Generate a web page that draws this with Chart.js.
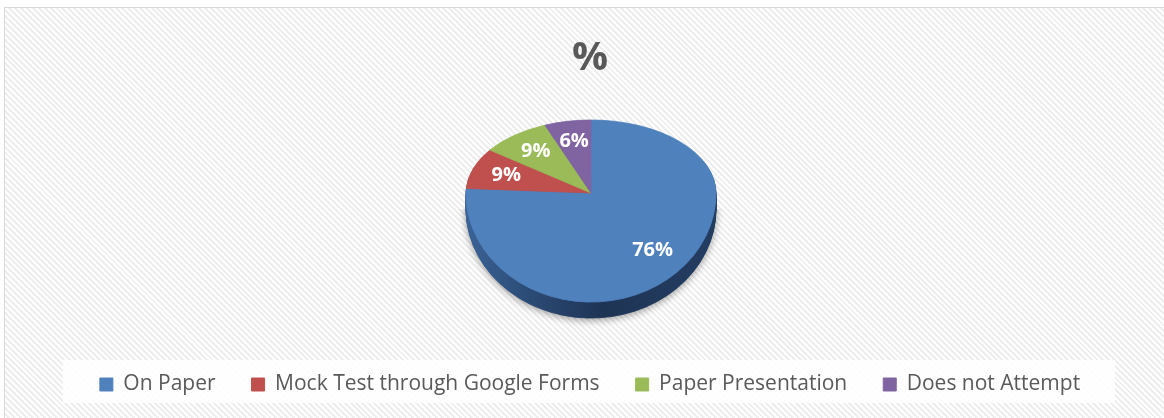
<!DOCTYPE html>
<html><head><meta charset="utf-8">
<script src="https://cdn.jsdelivr.net/npm/chart.js@4/dist/chart.umd.min.js"></script>
<style>
html,body{margin:0;padding:0;width:1164px;height:418px;overflow:hidden;background:#fff;}
#frame{position:absolute;left:4px;top:7px;width:1172px;height:440px;border-top:1px solid #d9d9d9;border-left:1px solid #d9d9d9;
background:repeating-linear-gradient(45deg,#ffffff 0px,#ffffff 2.1px,#eeeeee 2.1px,#eeeeee 4.2px);}
#wrap{position:absolute;left:0;top:0;width:1170px;height:430px;}
</style></head><body>
<div id="frame"><div id="wrap"><canvas id="c"></canvas></div></div>
<script>
const categories = ['On Paper', 'Mock Test through Google Forms', 'Paper Presentation', 'Does not Attempt'];
const percentValues = [76, 9, 9, 6];
const sliceColors = ['#4F81BD', '#C0504D', '#9BBB59', '#8064A2'];
const titleText = '%';

// 3D look parameters (layout / style only)
const PIE = { cx: 586, cy: 185, r: 125, syTop: 0.584, syBot: 0.872, depth: 16, labelR: 0.72 };

const placePie = {
  id: 'placePie',
  afterLayout(chart) {
    const s = PIE.r * 2 + 1;
    Object.assign(chart.chartArea, {
      left: PIE.cx - s / 2, right: PIE.cx + s / 2,
      top: PIE.cy - s / 2, bottom: PIE.cy + s / 2,
      width: s, height: s
    });
  },
  beforeDraw(chart) {
    const ctx = chart.ctx;
    ctx.save();
    ctx.fillStyle = 'rgba(255,255,255,0.88)';
    ctx.fillRect(58, 352, 1052, 43);
    ctx.restore();
  }
};

function withHalf(ctx, el, top, k, W, H) {
  ctx.save();
  ctx.translate(0, k);
  ctx.beginPath();
  if (top) ctx.rect(0, -50, W, el.y + 50); else ctx.rect(0, el.y, W, H);
  ctx.clip();
  ctx.translate(el.x, el.y);
  ctx.scale(1, top ? PIE.syTop : PIE.syBot);
  ctx.translate(-el.x, -el.y);
}

const tiltedPie = {
  id: 'tiltedPie',
  beforeDatasetsDraw(chart) {
    const ctx = chart.ctx;
    const meta = chart.getDatasetMeta(0);
    const W = chart.width, H = chart.height;
    const el0 = meta.data[0];
    const grad = ctx.createLinearGradient(el0.x - el0.outerRadius, 0, el0.x + el0.outerRadius, 0);
    grad.addColorStop(0, '#3b6396');
    grad.addColorStop(0.25, '#2b4b76');
    grad.addColorStop(0.55, '#1e3455');
    grad.addColorStop(1, '#233d61');
    for (let k = PIE.depth; k >= 1; k--) {
      [true, false].forEach(top => {
        meta.data.forEach(el => {
          withHalf(ctx, el, top, k, W, H);
          if (k === PIE.depth && !top) {
            ctx.shadowColor = 'rgba(0,0,0,0.35)';
            ctx.shadowBlur = 7;
            ctx.shadowOffsetY = 2;
          }
          const proxy = Object.create(el);
          proxy.options = Object.assign({}, el.options, { backgroundColor: grad, borderColor: grad });
          el.draw.call(proxy, ctx);
          ctx.restore();
        });
      });
    }
    [true, false].forEach(top => {
      meta.data.forEach(el => {
        withHalf(ctx, el, top, 0, W, H);
        el.draw(ctx);
        ctx.restore();
      });
    });
    ctx.save();
    ctx.font = 'bold 20px "Open Sans"';
    ctx.fillStyle = '#ffffff';
    ctx.textAlign = 'center';
    ctx.textBaseline = 'middle';
    meta.data.forEach((el, i) => {
      const mid = (el.startAngle + el.endAngle) / 2;
      const rr = el.outerRadius * PIE.labelR;
      let dx = Math.cos(mid) * rr, dy = Math.sin(mid) * rr;
      dy *= dy < 0 ? PIE.syTop : PIE.syBot;
      ctx.fillText(percentValues[i] + '%', el.x + dx, el.y + dy);
    });
    ctx.restore();
    return false;
  }
};

new Chart(document.getElementById('c'), {
  type: 'pie',
  data: {
    labels: categories,
    datasets: [{
      data: percentValues,
      backgroundColor: sliceColors,
      borderColor: sliceColors,
      borderWidth: 1
    }]
  },
  options: {
    responsive: true,
    maintainAspectRatio: false,
    animation: false,
    events: [],
    layout: { padding: { bottom: 33 } },
    plugins: {
      title: {
        display: true, text: titleText, color: '#595959',
        font: { family: 'Open Sans', size: 40, weight: 'bold' },
        padding: { top: 27, bottom: 0 }
      },
      legend: {
        position: 'bottom',
        labels: {
          boxWidth: 13, boxHeight: 13, padding: 36, color: '#595959',
          font: { family: 'Open Sans', size: 21 }
        }
      },
      tooltip: { enabled: false }
    }
  },
  plugins: [placePie, tiltedPie]
});
</script>
</body></html>
